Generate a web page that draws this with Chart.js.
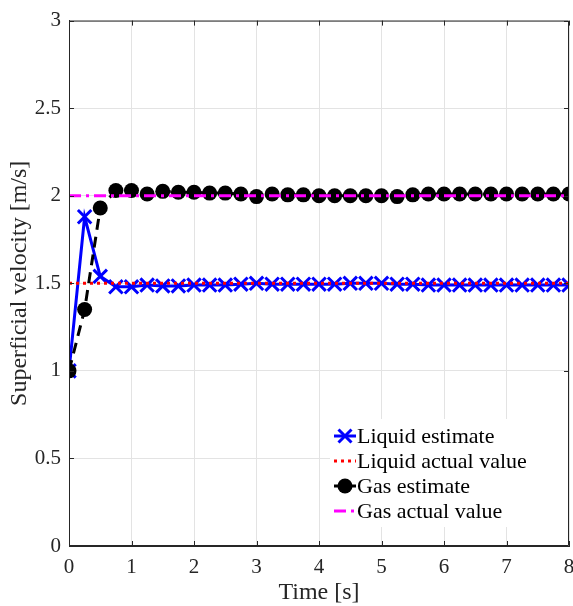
<!DOCTYPE html>
<html>
<head>
<meta charset="utf-8">
<script src="https://cdn.jsdelivr.net/npm/chart.js@4.4.1/dist/chart.umd.min.js"></script>
<style>
html,body{margin:0;padding:0;background:#fff;}
#wrap{width:573px;height:606px;}
</style>
</head>
<body>
<div id="wrap"><canvas id="c" width="573" height="606"></canvas></div>
<script>
const time = [0,0.25,0.5,0.75,1,1.25,1.5,1.75,2,2.25,2.5,2.75,3,3.25,3.5,3.75,4,4.25,4.5,4.75,5,5.25,5.5,5.75,6,6.25,6.5,6.75,7,7.25,7.5,7.75,8];
const liquidEstimate = [1.00,1.88,1.54,1.48,1.48,1.49,1.485,1.485,1.49,1.49,1.49,1.495,1.50,1.495,1.495,1.495,1.495,1.495,1.50,1.50,1.50,1.495,1.495,1.49,1.49,1.49,1.49,1.49,1.49,1.49,1.49,1.49,1.49];
const gasEstimate = [1.00,1.35,1.93,2.03,2.03,2.01,2.025,2.02,2.02,2.015,2.015,2.01,1.995,2.01,2.005,2.005,2.00,2.00,2.00,2.00,2.00,1.995,2.005,2.01,2.01,2.01,2.01,2.01,2.01,2.01,2.01,2.01,2.01];
const liquidActual = 1.5;
const gasActual = 2.0;
const xTicks = [0,1,2,3,4,5,6,7,8];
const yTicks = [0,0.5,1,1.5,2,2.5,3];
const labels = ['Liquid estimate','Liquid actual value','Gas estimate','Gas actual value'];

const FONT = "'Liberation Serif','Times New Roman',serif";
const pts = (ys) => time.map((t,i)=>({x:t,y:ys[i]}));
const flat = (v) => [{x:time[0],y:v},{x:time[time.length-1],y:v}];

const frame = {
  id:'frame',
  afterLayout(chart){
    const a = chart.chartArea, R = chart.width - 4;
    a.right = R; a.width = R - a.left;
    const xs = chart.scales.x;
    xs.right = R; xs.width = R - xs.left;
    xs.configure();
  },
  afterDatasetsDraw(chart){
    const ctx = chart.ctx, a = chart.chartArea;
    const xs = chart.scales.x, ys = chart.scales.y;
    ctx.save();
    ctx.strokeStyle = '#262626';
    ctx.lineWidth = 1;
    ctx.beginPath();
    ctx.rect(a.left+0.5, a.top+0.5, a.right-a.left-1, a.bottom-a.top-1);
    ctx.stroke();
    const L = 5;
    ctx.beginPath();
    xTicks.forEach(v=>{
      const p = Math.round(xs.getPixelForValue(v))+0.5;
      ctx.moveTo(p,a.bottom); ctx.lineTo(p,a.bottom-L);
      ctx.moveTo(p,a.top); ctx.lineTo(p,a.top+L);
    });
    yTicks.forEach(v=>{
      const p = Math.round(ys.getPixelForValue(v))+0.5;
      ctx.moveTo(a.left,p); ctx.lineTo(a.left+L,p);
      ctx.moveTo(a.right,p); ctx.lineTo(a.right-L,p);
    });
    ctx.stroke();
    ctx.restore();
  },
  afterDraw(chart){
    const ctx = chart.ctx, a = chart.chartArea;
    const bx = 330, by = 419, bw = a.right - 1 - bx, bh = 108;
    ctx.save();
    ctx.fillStyle = '#fff';
    ctx.fillRect(bx,by,bw,bh);
    const rows = [436,461,486,511];
    chart.data.datasets.forEach((ds,i)=>{
      const y = rows[i];
      ctx.strokeStyle = ds.borderColor;
      ctx.lineWidth = ds.borderWidth;
      ctx.setLineDash(ds.borderDash || []);
      ctx.beginPath(); ctx.moveTo(334,y); ctx.lineTo(356,y); ctx.stroke();
      ctx.setLineDash([]);
      if (ds.pointStyle === 'crossRot') {
        const h = 6.5;
        ctx.lineWidth = 3; ctx.strokeStyle = ds.pointBorderColor;
        ctx.beginPath();
        ctx.moveTo(345-h,y-h); ctx.lineTo(345+h,y+h);
        ctx.moveTo(345-h,y+h); ctx.lineTo(345+h,y-h);
        ctx.stroke();
      } else if (ds.pointRadius > 0) {
        ctx.fillStyle = ds.pointBackgroundColor;
        ctx.beginPath(); ctx.arc(345,y,7.5,0,Math.PI*2); ctx.fill();
      }
      ctx.fillStyle = '#000';
      ctx.font = '22px ' + FONT;
      ctx.textBaseline = 'middle';
      ctx.fillText(labels[i], 357, y+1);
    });
    ctx.restore();
  }
};

new Chart(document.getElementById('c'), {
  type:'scatter',
  data:{
    datasets:[
      {label:labels[0], data:pts(liquidEstimate), showLine:true, borderColor:'#0000ff', borderWidth:3,
       pointStyle:'crossRot', pointRadius:9.5, pointBorderWidth:3, pointBorderColor:'#0000ff', pointBackgroundColor:'#0000ff', order:4},
      {label:labels[1], data:flat(liquidActual), showLine:true, borderColor:'#ff0000', borderWidth:3, borderDash:[3,4],
       pointRadius:0, order:3},
      {label:labels[2], data:pts(gasEstimate), showLine:true, borderColor:'#000000', borderWidth:3, borderDash:[11,7],
       pointStyle:'circle', pointRadius:7.5, pointBorderWidth:0, pointBackgroundColor:'#000000', pointBorderColor:'#000000', order:2},
      {label:labels[3], data:flat(gasActual), showLine:true, borderColor:'#ff00ff', borderWidth:3, borderDash:[12,5,3,5],
       pointRadius:0, order:1}
    ]
  },
  options:{
    responsive:false, animation:false,
    layout:{padding:{top:18,right:4,left:0,bottom:0}},
    plugins:{legend:{display:false}, tooltip:{enabled:false}},
    scales:{
      x:{type:'linear', min:0, max:8,
         afterBuildTicks:(s)=>{s.ticks = xTicks.map(v=>({value:v}));},
         afterFit:(s)=>{s.height = 60;},
         grid:{color:'#e3e3e3', lineWidth:1, drawTicks:false},
         border:{color:'#262626'},
         ticks:{padding:9, color:'#262626', font:{family:FONT,size:21}, maxRotation:0, callback:(v)=>String(v)},
         title:{display:true, text:'Time [s]', color:'#262626', font:{family:FONT,size:24,lineHeight:1}, padding:{top:0,bottom:1}}},
      y:{type:'linear', min:0, max:3,
         afterBuildTicks:(s)=>{s.ticks = yTicks.map(v=>({value:v}));},
         afterFit:(s)=>{s.width = 69;},
         grid:{color:'#e3e3e3', lineWidth:1, drawTicks:false},
         border:{color:'#262626'},
         ticks:{padding:8, color:'#262626', font:{family:FONT,size:21}, callback:(v)=>String(v)},
         title:{display:true, text:'Superficial velocity [m/s]', color:'#262626', font:{family:FONT,size:24}, padding:{top:5,bottom:0}}}
    }
  },
  plugins:[frame]
});
</script>
</body>
</html>
